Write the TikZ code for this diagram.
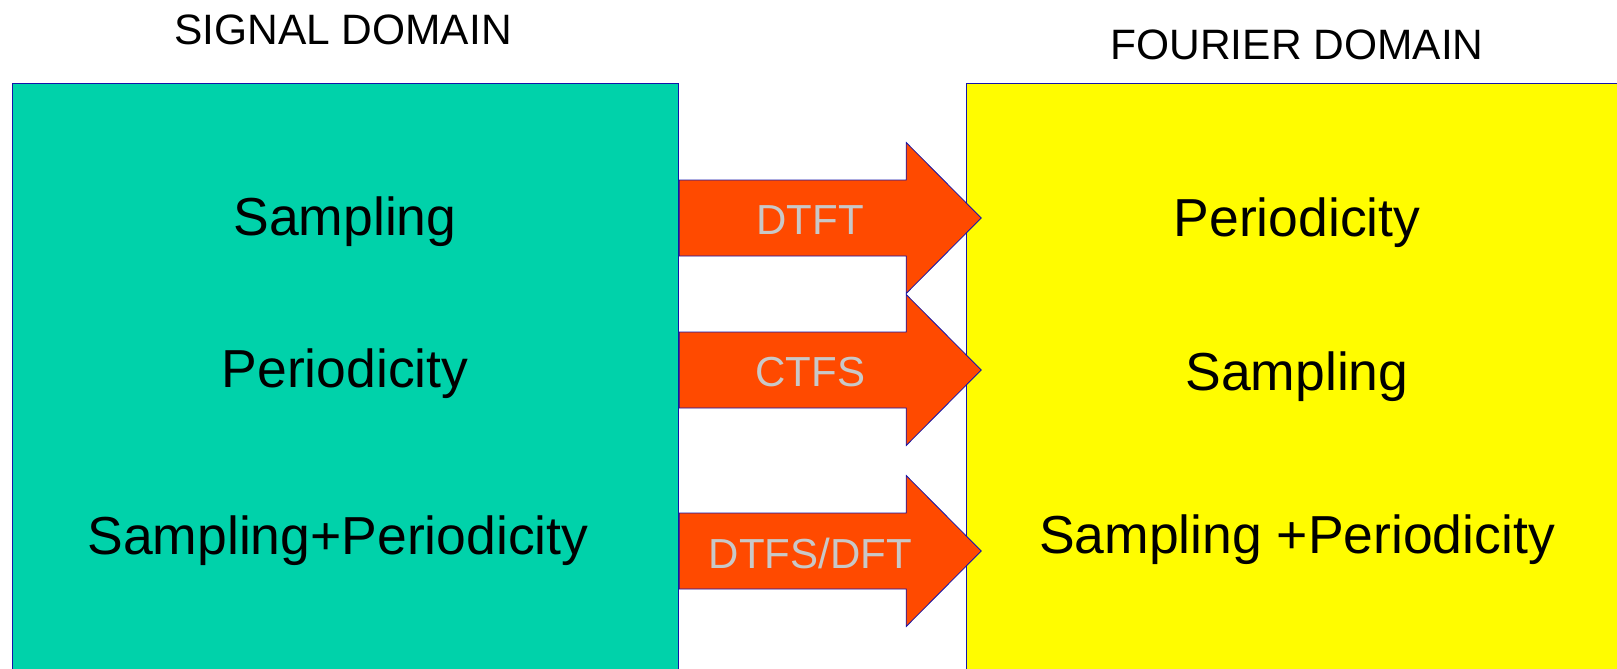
\documentclass[tikz,border=0pt]{standalone}
\usepackage{fontspec}
\setmainfont{Liberation Sans}
\usetikzlibrary{positioning,calc}
\definecolor{signalteal}{RGB}{0,210,170}
\definecolor{fourieryellow}{RGB}{255,252,0}
\definecolor{arrowred}{RGB}{255,74,0}
\definecolor{edgeblue}{RGB}{20,20,170}
\definecolor{labelgray}{RGB}{200,200,200}
\begin{document}
\begin{tikzpicture}[
  x=1pt, y=-1pt,
  every node/.style={inner sep=0pt},
  domainbox/.style={draw=edgeblue, line width=1.2pt, minimum height=640, anchor=north west},
  title/.style={font=\fontsize{42.5}{50}\selectfont},
  item/.style={font=\fontsize{53.5}{62}\selectfont},
  fatarrow/.style={fill=arrowred, draw=edgeblue, line width=0.8pt},
  arrowlabel/.style={font=\fontsize{42}{50}\selectfont, text=labelgray}
]
\useasboundingbox (0,0) rectangle (1617,669);
\node[domainbox, fill=signalteal, minimum width=666] (sig) at (12,83) {};
\node[domainbox, fill=fourieryellow, minimum width=700] (four) at (966,83) {};
\node[title] (sigtitle) at (343,30) {SIGNAL DOMAIN};
\node[title] (fourtitle) at (1297,45) {FOURIER DOMAIN};
% signal side
\node[item] (sampl) at (345,222) {Sampling};
\node[item] (period) at (345,374) {Periodicity};
\node[item] (both) at (338,541) {Sampling+Periodicity};
% fourier side
\node[item] (fperiod) at (1297,223) {Periodicity};
\node[item] (fsampl) at (1297,377) {Sampling};
\node[item] (fboth) at (1297,540) {Sampling +Periodicity};
% transforms
\foreach \y/\lbl/\nm in {218/DTFT/dtft, 370/CTFS/ctfs, 551/{DTFS/DFT}/dtfs} {
  \coordinate (tail) at (sig.east |- 0,\y);
  \draw[fatarrow] (tail) ++(0,-38) -- ++(227,0) -- ++(0,-37.5) -- ++(75,75.5)
    -- ++(-75,75.5) -- ++(0,-37.5) -- ++(-227,0) -- cycle;
  \node[arrowlabel] (\nm) at ($(tail)+(131,2)$) {\lbl};
}
\end{tikzpicture}
\end{document}
